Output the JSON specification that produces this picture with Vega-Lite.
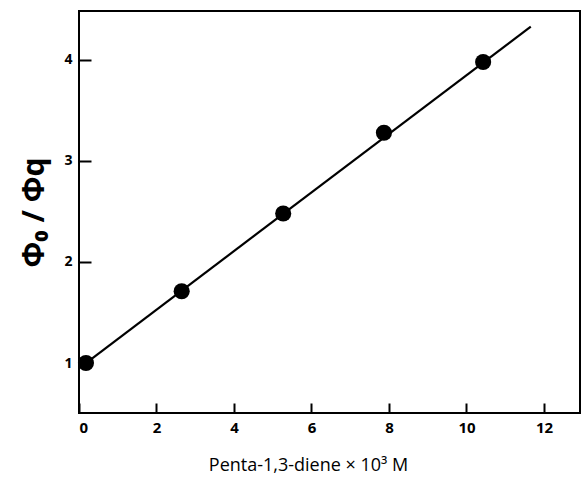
{
  "$schema": "https://vega.github.io/schema/vega-lite/v6.json",
  "width": 501,
  "height": 402,
  "autosize": "none",
  "padding": {"left": 79, "top": 11, "right": 1, "bottom": 66},
  "background": "white",
  "config": {
    "view": {"stroke": "black", "strokeWidth": 2},
    "axis": {
      "grid": false,
      "domain": false,
      "tickColor": "black",
      "tickWidth": 2,
      "labelColor": "black",
      "labelFont": "Open Sans",
      "labelFontWeight": "bold",
      "titleColor": "black",
      "titleFont": "Open Sans",
      "titleFontWeight": "normal"
    }
  },
  "datasets": {
    "pts": [
      {"conc": 0.18, "ratio": 1.0},
      {"conc": 2.65, "ratio": 1.71},
      {"conc": 5.27, "ratio": 2.48},
      {"conc": 7.87, "ratio": 3.28},
      {"conc": 10.43, "ratio": 3.98}
    ],
    "fit": [
      {"conc": 0.18, "ratio": 1.0},
      {"conc": 11.66, "ratio": 4.33}
    ]
  },
  "layer": [
    {
      "data": {"name": "fit"},
      "mark": {"type": "line", "color": "black", "strokeWidth": 2.2},
      "encoding": {
        "x": {
          "field": "conc", "type": "quantitative",
          "scale": {"domain": [0, 12.93], "nice": false, "zero": false},
          "axis": {
            "values": [0, 2, 4, 6, 8, 10, 12],
            "format": "d",
            "tickSize": -10,
            "labelFontSize": 15,
            "labelPadding": 17,
            "title": "Penta-1,3-diene × 10³ M",
            "titleFontSize": 18,
            "titlePadding": 21,
            "titleX": 229,
            "titleAlign": "center"
          }
        },
        "y": {
          "field": "ratio", "type": "quantitative",
          "scale": {"domain": [0.505, 4.485], "nice": false, "zero": false},
          "axis": {
            "values": [1, 2, 3, 4],
            "format": "d",
            "tickSize": -12,
            "labelFontSize": 14,
            "labelPadding": 19,
            "title": "Φ₀ / Φq",
            "titleFontSize": 30,
            "titleFontWeight": "bold",
            "titlePadding": 14
          }
        }
      }
    },
    {
      "data": {"name": "pts"},
      "mark": {"type": "circle", "color": "black", "opacity": 1, "size": 260},
      "encoding": {
        "x": {"field": "conc", "type": "quantitative"},
        "y": {"field": "ratio", "type": "quantitative"}
      }
    }
  ]
}
